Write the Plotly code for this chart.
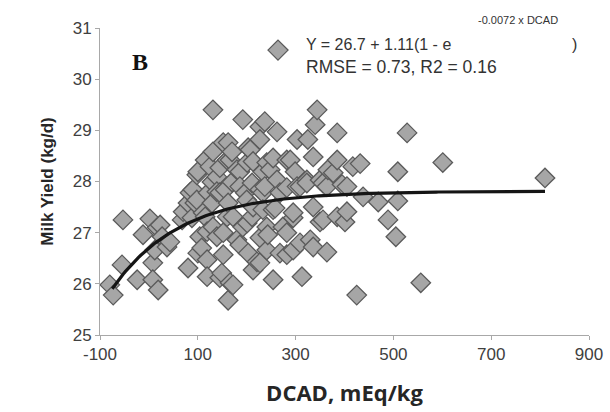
import numpy as np
import plotly.graph_objects as go

dcad = [-80, -73, -55, -53, -24, -12, 2, 8, 8, 12, 17, 19, 23, 27, 37, 43, 68, 70, 80, 80,
        84, 88, 90, 94, 98, 98, 100, 100,
        104, 108, 111, 115, 115, 119, 119, 119, 121, 125, 129, 129, 131, 131, 131, 139, 139,
        139, 145, 145, 145, 149, 152, 152, 152, 156, 160, 160, 162, 162, 162, 166, 166, 170,
        170, 172, 172, 180, 180, 186, 186, 186, 192, 192, 197, 200,
        201, 201, 203, 203, 207, 211, 211, 213, 213, 213, 221, 227, 227, 227, 227, 227, 233,
        233, 233, 237, 237, 241, 241, 241, 243, 248, 254, 254, 254, 258, 262, 262, 268, 268,
        274, 282, 282, 282, 282, 289, 295, 295, 295, 299,
        303, 303, 309, 309, 313, 323, 323, 325, 330, 336, 336, 336, 340, 344, 350, 350, 356,
        356, 364, 364, 366, 377, 385, 385, 385, 395, 401, 405, 405, 417, 425, 432, 438, 469,
        489, 505, 509, 509, 528, 556, 601, 810]
milk = [25.98, 25.78, 26.37, 27.25, 26.08, 26.96, 27.27, 26.41, 26.08, 26.66, 27.10, 25.88,
        27.15, 26.92, 26.72, 26.82, 27.25, 27.41, 27.58, 26.31, 27.78, 27.29, 27.84, 27.58,
        27.64, 28.13, 26.60, 28.19,
        26.92, 26.70, 27.39, 27.31, 28.42, 27.02, 26.47, 26.14, 27.78, 28.29, 27.99, 27.58,
        29.40, 27.11, 28.58, 28.09, 26.92, 27.80, 28.27, 26.12, 27.78, 26.21, 27.00, 26.57,
        28.76, 27.84, 27.31, 28.42, 27.58, 28.76, 25.68, 28.42, 26.02, 27.99, 28.58, 25.98,
        27.31, 26.86, 28.23, 26.76, 28.19, 27.90, 29.21, 27.11, 27.78, 27.64,
        27.19, 28.37, 28.66, 26.60, 28.62, 27.31, 27.97, 28.39, 26.27, 27.50, 26.43, 26.90,
        26.41, 29.07, 28.82, 27.84, 28.19, 27.78, 27.45, 29.17, 27.90, 27.11, 26.66, 28.37,
        26.96, 28.23, 28.46, 26.08, 27.45, 27.48, 28.97, 28.03, 26.60, 27.78, 27.11, 27.88,
        26.57, 27.00, 28.42, 28.42, 27.29, 26.66, 27.39, 28.19,
        28.82, 27.90, 26.80, 27.90, 26.14, 28.03, 27.97, 28.82, 26.86, 28.48, 26.72, 27.50,
        29.11, 29.40, 27.21, 28.03, 27.97, 27.25, 26.62, 27.90, 28.23, 28.17, 28.95, 28.42,
        27.31, 27.94, 27.21, 27.90, 27.41, 28.29, 25.78, 28.35, 27.70, 27.60, 27.25, 26.92,
        28.19, 27.62, 28.95, 26.02, 28.37, 28.07]

# Fitted model stated on the chart: Y = 26.7 + 1.11(1 - e^(-0.0072 x DCAD))
fit_a, fit_b, fit_k = 26.7, 1.11, 0.0072
fit_x = np.linspace(-75, 810, 200)
fit_y = fit_a + fit_b * (1 - np.exp(-fit_k * fit_x))

x_ticks = [-100, 100, 300, 500, 700, 900]
y_ticks = [25, 26, 27, 28, 29, 30, 31]

fig = go.Figure()
fig.add_trace(go.Scatter(
    x=dcad, y=milk, mode="markers",
    marker=dict(symbol="diamond", size=15, color="#a6a6a6",
                line=dict(color="#5a5a5a", width=1.3)),
    showlegend=False, hoverinfo="skip"))
fig.add_trace(go.Scatter(
    x=fit_x, y=fit_y, mode="lines",
    line=dict(color="#151515", width=3.2),
    showlegend=False, hoverinfo="skip"))

tickfont = dict(family="Liberation Sans, Arial", size=17, color="#404040")
axis_common = dict(showgrid=False, zeroline=False, showline=True, linecolor="#a8a8a8",
                   linewidth=1, ticks="outside", ticklen=4, tickcolor="#a8a8a8",
                   tickfont=tickfont, automargin=False)

fig.update_xaxes(range=[-100, 900], tickvals=x_ticks, ticktext=[str(v) for v in x_ticks],
                 title=dict(text="<b>DCAD, mEq/kg</b>",
                            font=dict(family="Open Sans", size=22, color="#262626"),
                            standoff=22),
                 **axis_common)
fig.update_yaxes(range=[25, 31], tickvals=y_ticks, ticktext=[str(v) for v in y_ticks],
                 title=dict(text="<b>Milk Yield (kg/d)</b>",
                            font=dict(family="Liberation Sans, Arial", size=17, color="#262626"),
                            standoff=14),
                 **axis_common)

# legend-like symbol (diamond) drawn in paper coordinates
cx, cy, hx, hy = 0.364, 0.928, 0.0205, 0.0326
fig.add_shape(type="path", xref="paper", yref="paper",
              path=f"M {cx-hx} {cy} L {cx} {cy+hy} L {cx+hx} {cy} L {cx} {cy-hy} Z",
              fillcolor="#a6a6a6", line=dict(color="#5a5a5a", width=1.3))

fig.add_annotation(xref="paper", yref="paper", x=0.418, y=0.946, xanchor="left", yanchor="middle",
                   text="Y = 26.7 + 1.11(1 - e", showarrow=False,
                   font=dict(family="Liberation Sans, Arial", size=16, color="#333333"))
fig.add_annotation(xref="paper", yref="paper", x=0.768, y=1.025, xanchor="left", yanchor="middle",
                   text="-0.0072 x DCAD", showarrow=False,
                   font=dict(family="Liberation Sans, Arial", size=11, color="#333333"))
fig.add_annotation(xref="paper", yref="paper", x=0.962, y=0.946, xanchor="left", yanchor="middle",
                   text=")", showarrow=False,
                   font=dict(family="Liberation Sans, Arial", size=16, color="#333333"))
fig.add_annotation(xref="paper", yref="paper", x=0.418, y=0.872, xanchor="left", yanchor="middle",
                   text="RMSE = 0.73, R2 = 0.16", showarrow=False,
                   font=dict(family="Liberation Sans, Arial", size=17.5, color="#333333"))
fig.add_annotation(xref="paper", yref="paper", x=0.062, y=0.89, xanchor="left", yanchor="middle",
                   text="<b>B</b>", showarrow=False,
                   font=dict(family="Liberation Serif, Times New Roman", size=24, color="#111111"))

fig.update_layout(width=610, height=412, margin=dict(l=100, r=21, t=28, b=77),
                  paper_bgcolor="white", plot_bgcolor="white")

fig.write_html("out.html", config={"displayModeBar": False, "staticPlot": True},
               post_script="document.body.style.margin='0px';")
